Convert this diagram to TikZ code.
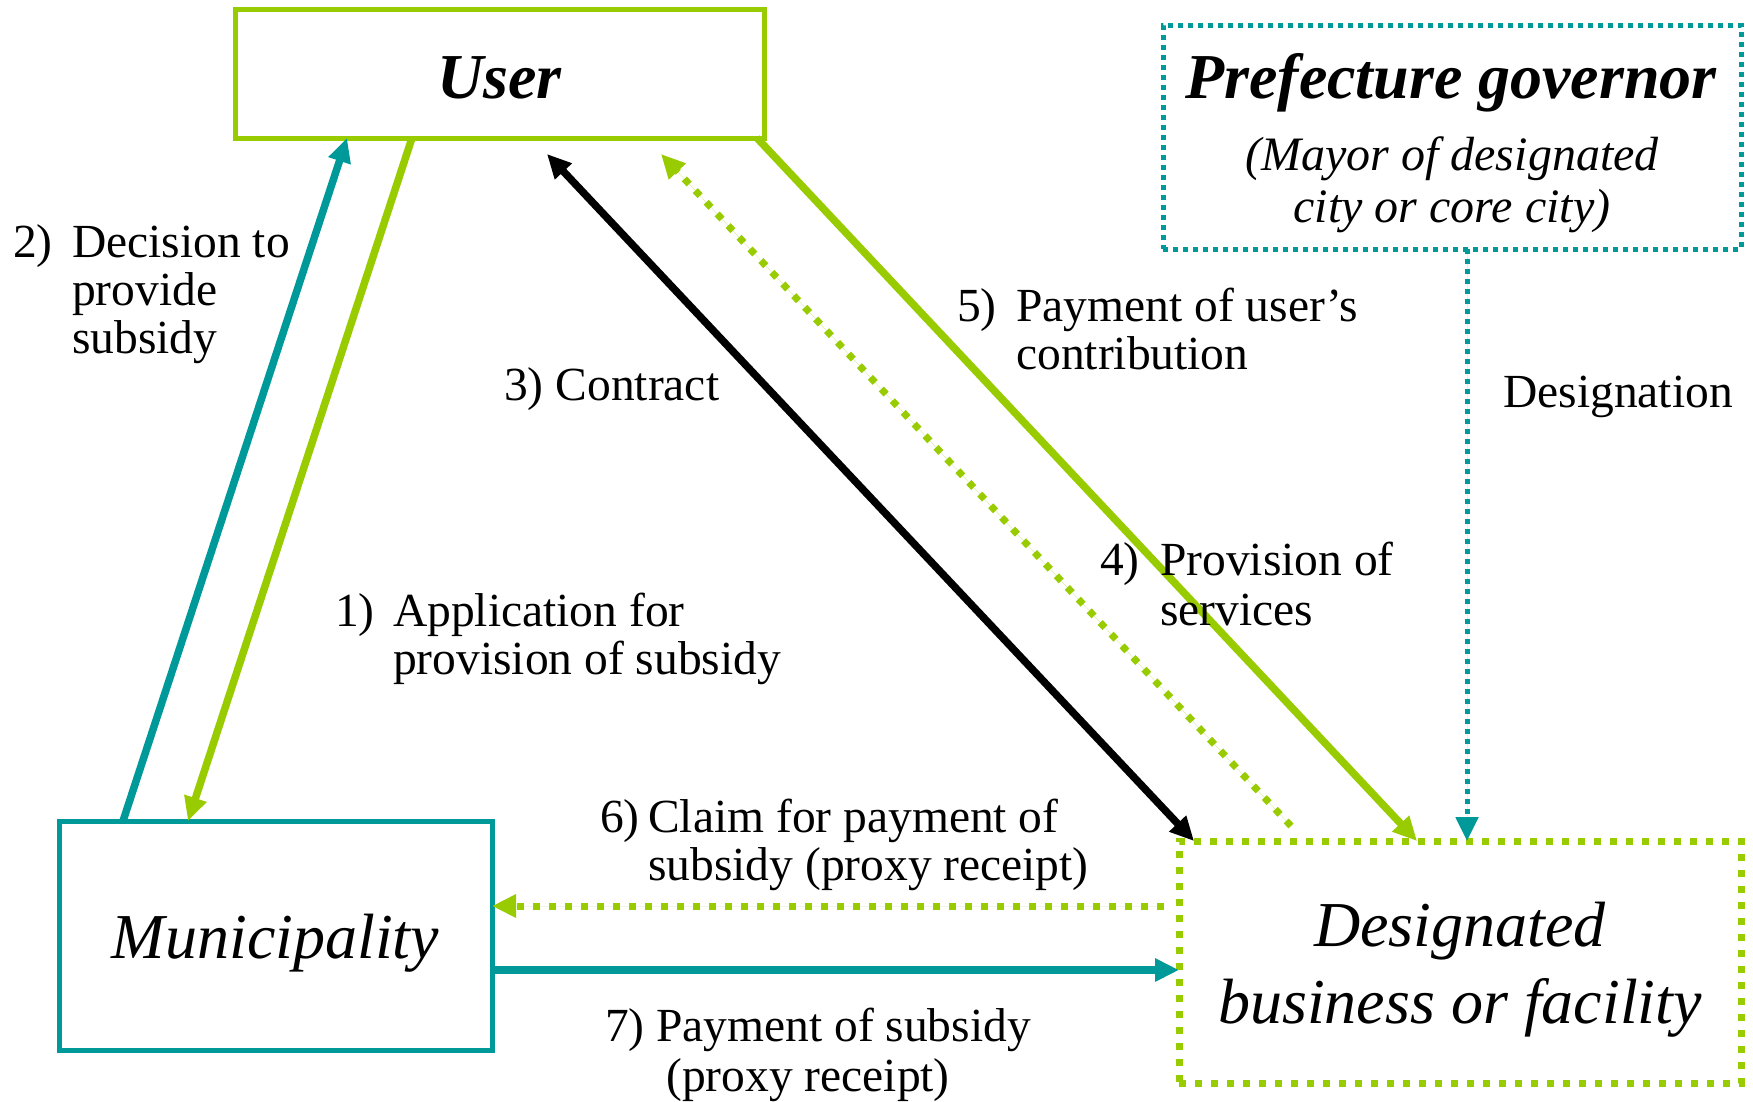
\documentclass[tikz,border=0pt]{standalone}
\usepackage{fontspec}
\setmainfont{Liberation Serif}
\usetikzlibrary{arrows.meta,calc}
\definecolor{lgreen}{RGB}{153,204,0}
\definecolor{tealc}{RGB}{0,153,153}
\newcommand\numlab[3]{\begin{tabular}[t]{@{}l@{}l@{}}\makebox[#1][l]{#2}&#3\end{tabular}}
\begin{document}
\begin{tikzpicture}[x=1pt,y=-1pt,
  box/.style={draw, line width=5pt, inner sep=0pt, outer sep=0pt},
  tip/.style={-{Triangle[length=24pt,width=22pt]}},
  dtip/.style={{Triangle[length=24pt,width=22pt]}-{Triangle[length=24pt,width=22pt]}},
  lbl/.style={inner sep=0pt, anchor=base west, font=\fontsize{47.5}{48}\selectfont},
  solidg/.style={line width=7.5pt, draw=lgreen, fill=lgreen},
  solidt/.style={line width=7.5pt, draw=tealc, fill=tealc},
  solidb/.style={line width=7.5pt, draw=black, fill=black},
  dotg/.style={line width=7pt, draw=lgreen, dash pattern=on 7pt off 9pt},
  dott/.style={line width=5pt, draw=tealc, dash pattern=on 5pt off 5pt},
  bigfont/.style={font=\fontsize{64}{77}\selectfont\itshape}]
\fill[white] (0,0) rectangle (1753,1101);
\useasboundingbox (0,0) rectangle (1753,1101);

% boxes
\node[box, draw=lgreen, minimum width=529pt, minimum height=129pt,
      font=\fontsize{64}{70}\selectfont\bfseries\itshape] (user) at (499.5,73.5) {\raisebox{-24.5pt}[0pt][0pt]{User}};
\node[box, dott, minimum width=578pt, minimum height=224pt] (pref) at (1452,137) {};
\node[inner sep=0pt, anchor=base, font=\fontsize{64}{70}\selectfont\bfseries\itshape] (preft) at (1451,98) {Prefecture governor};
\node[inner sep=0pt, anchor=base, font=\fontsize{48}{52}\selectfont\itshape] (prefs) at (1452,170)
  {\begin{tabular}[t]{@{}c@{}}(Mayor of designated\\city or core city)\end{tabular}};
\node[box, draw=tealc, minimum width=433pt, minimum height=229pt, bigfont] (muni) at (275.5,935.5) {\raisebox{-22.5pt}[0pt][0pt]{Municipality}};
\node[box, dotg, minimum width=562pt, minimum height=242pt, bigfont] (desig) at (1460,962)
  {\raisebox{16pt}[0pt][0pt]{\begin{tabular}[t]{@{}c@{}}Designated\\business or facility\end{tabular}}};

% connectors
\draw[solidg, tip] ([xshift=177pt]user.south west) -- ([xshift=129pt]muni.north west);
\draw[solidt, tip] ([xshift=64pt]muni.north west) -- ([xshift=112pt]user.south west);
\draw[solidb, dtip] ([shift={(312pt,-16pt)}]user.south west) -- ([xshift=15pt]desig.north west);
\draw[dotg, tip, fill=lgreen] ([shift={(112pt,15pt)}]desig.north west) -- ([shift={(426pt,-16pt)}]user.south west);
\draw[solidg, tip] ([xshift=-7pt]user.south east) -- ([xshift=238pt]desig.north west);
\draw[dott, tip, fill=tealc] ([xshift=304pt]pref.south west) -- ([xshift=288pt]desig.north west);
\coordinate (c6) at (1164,906);
\draw[dotg, tip, fill=lgreen] (c6) -- (c6 -| muni.east);
\coordinate (c7) at ([yshift=-34.5pt]muni.east);
\draw[solidt, tip] (c7) -- (c7 -| desig.west);

% labels
\node[lbl] (l2) at (13,257) {\numlab{59pt}{2)}{Decision to\\&provide\\&subsidy}};
\node[lbl] (l3) at (504,400) {3) Contract};
\node[lbl] (l1) at (335,626) {\numlab{58pt}{1)}{Application for\\&provision of subsidy}};
\node[lbl] (l5) at (957,321) {\numlab{59pt}{5)}{Payment of user’s\\&contribution}};
\node[lbl] (l4) at (1100,575) {\numlab{60pt}{4)}{Provision of\\[2pt]&services}};
\node[lbl] (l6) at (600,832) {\numlab{48pt}{6)}{Claim for payment of\\&subsidy (proxy receipt)}};
\node[lbl] (l7) at (605,1041) {\numlab{51pt}{7)}{Payment of subsidy\\[2pt]&\hspace{10pt}(proxy receipt)}};
\node[lbl] (ldes) at (1503,407) {Designation};
\end{tikzpicture}
\end{document}
